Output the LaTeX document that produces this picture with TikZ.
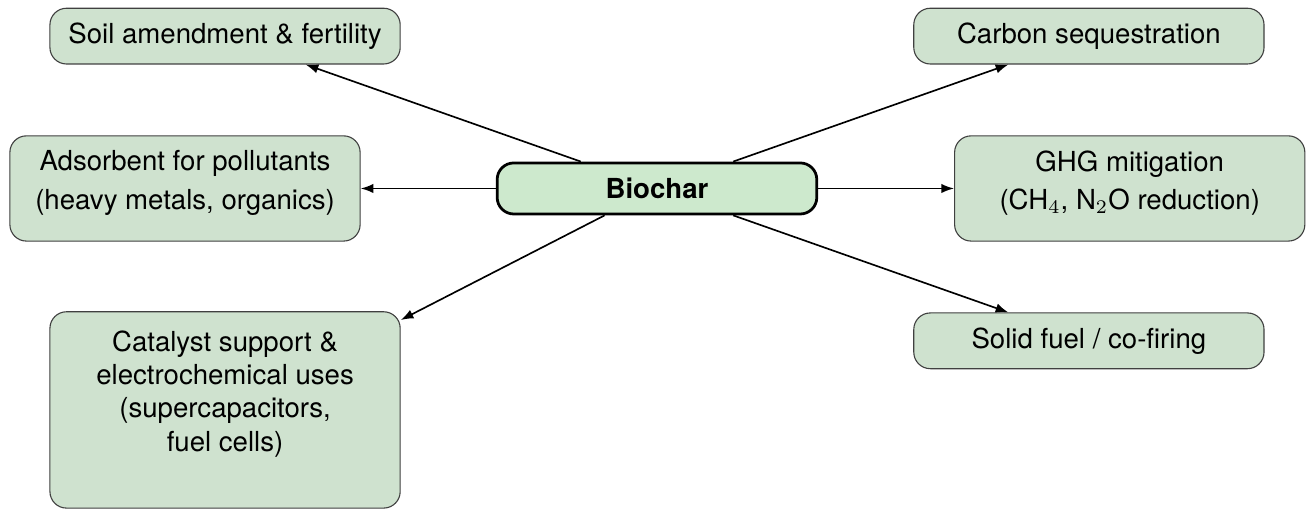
\documentclass[tikz,border=0pt]{standalone}
\usepackage{fontspec}
\setmainfont{TeX Gyre Heros}
\usetikzlibrary{arrows.meta}
\definecolor{usefill}{HTML}{CFE2CF}
\definecolor{hubfill}{HTML}{CDE9CD}
\definecolor{useedge}{HTML}{404040}
\tikzstyle{application}=[draw=useedge, fill=usefill, rounded corners=6pt, thin,
  minimum width=4.46cm, minimum height=0.71cm, align=center,
  font=\fontsize{10}{12}\selectfont]
\tikzstyle{two lines}=[application, minimum height=1.34cm, text depth=6.2pt]
\tikzstyle{hub}=[draw=black, fill=hubfill, rounded corners=6pt, line width=1pt,
  minimum width=4.07cm, minimum height=0.65cm, font=\bfseries]
\tikzstyle{link}=[semithick, -{Latex[length=4.6pt, width=3.4pt]}]

\begin{document}
\begin{tikzpicture}
      \useasboundingbox (-8.366, -4.094) rectangle (8.341, 2.400);
      \node[hub] (biochar) at (0, 0) {Biochar};
      % uses on the left
      \node[application] (soil) at (-5.50, 1.94) {Soil amendment \& fertility};
      \node[two lines] (adsorbent) at (-6.01, 0)
        {Adsorbent for pollutants\\[1.8pt](heavy metals, organics)};
      \node[application, minimum height=2.50cm, inner ysep=6.9pt, text depth=13.7pt]
        (catalyst) at (-5.50, -2.82)
        {Catalyst support \&\\electrochemical uses\\(supercapacitors,\\fuel cells)};
      % uses on the right
      \node[application] (carbon) at (5.50, 1.94) {Carbon sequestration};
      \node[two lines] (ghg) at (6.02, 0)
        {GHG mitigation\\[1.8pt](CH$_4$, N$_2$O reduction)};
      \node[application] (fuel) at (5.50, -1.94) {Solid fuel / co-firing};
      \foreach \target in {soil, adsorbent, catalyst, carbon, ghg, fuel}
        \draw[link] (biochar) -- (\target);
    \end{tikzpicture}
\end{document}
